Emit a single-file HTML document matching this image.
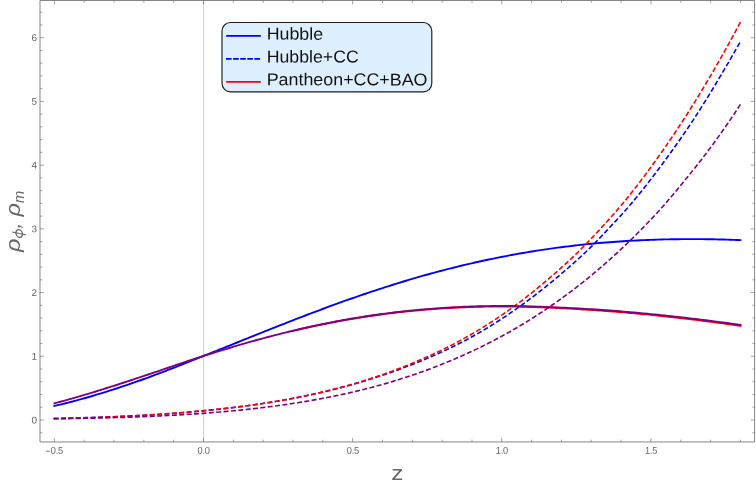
<!DOCTYPE html>
<html><head><meta charset="utf-8"><title>plot</title>
<style>html,body{margin:0;padding:0;background:#fff}body{width:756px;height:486px;overflow:hidden}</style></head>
<body>
<svg width="756" height="486" viewBox="0 0 756 486" style="display:block;will-change:transform">
<rect width="756" height="486" fill="#fff"/>
<line x1="203.5" y1="0.5" x2="203.5" y2="441.95" stroke="#cfcfcf" stroke-width="1"/>
<path d="M54.35,405.94 L57.80,405.14 L61.25,404.31 L64.69,403.47 L68.14,402.60 L71.59,401.71 L75.04,400.81 L78.48,399.88 L81.93,398.93 L85.38,397.97 L88.83,396.98 L92.27,395.98 L95.72,394.96 L99.17,393.92 L102.62,392.87 L106.07,391.79 L109.51,390.71 L112.96,389.60 L116.41,388.48 L119.86,387.34 L123.30,386.19 L126.75,385.03 L130.20,383.85 L133.65,382.66 L137.09,381.46 L140.54,380.24 L143.99,379.01 L147.44,377.77 L150.89,376.51 L154.33,375.23 L157.78,373.93 L161.23,372.62 L164.68,371.30 L168.12,369.97 L171.57,368.62 L175.02,367.27 L178.47,365.91 L181.91,364.55 L185.36,363.18 L188.81,361.80 L192.26,360.43 L195.71,359.05 L199.15,357.68 L202.60,356.31 L206.05,354.94 L209.50,353.57 L212.94,352.19 L216.39,350.81 L219.84,349.43 L223.29,348.05 L226.73,346.66 L230.18,345.28 L233.63,343.89 L237.08,342.50 L240.53,341.12 L243.97,339.73 L247.42,338.34 L250.87,336.96 L254.32,335.58 L257.76,334.20 L261.21,332.82 L264.66,331.44 L268.11,330.07 L271.55,328.70 L275.00,327.33 L278.45,325.97 L281.90,324.61 L285.35,323.26 L288.79,321.91 L292.24,320.56 L295.69,319.22 L299.14,317.89 L302.58,316.56 L306.03,315.24 L309.48,313.93 L312.93,312.62 L316.37,311.32 L319.82,310.03 L323.27,308.75 L326.72,307.47 L330.17,306.20 L333.61,304.94 L337.06,303.69 L340.51,302.44 L343.96,301.21 L347.40,299.98 L350.85,298.77 L354.30,297.56 L357.75,296.37 L361.19,295.18 L364.64,294.00 L368.09,292.84 L371.54,291.68 L374.99,290.54 L378.43,289.40 L381.88,288.28 L385.33,287.17 L388.78,286.07 L392.22,284.98 L395.67,283.90 L399.12,282.84 L402.57,281.78 L406.01,280.74 L409.46,279.71 L412.91,278.69 L416.36,277.69 L419.80,276.69 L423.25,275.71 L426.70,274.74 L430.15,273.79 L433.60,272.84 L437.04,271.91 L440.49,271.00 L443.94,270.09 L447.39,269.20 L450.83,268.32 L454.28,267.46 L457.73,266.60 L461.18,265.76 L464.62,264.94 L468.07,264.12 L471.52,263.33 L474.97,262.54 L478.42,261.77 L481.86,261.01 L485.31,260.26 L488.76,259.53 L492.21,258.81 L495.65,258.10 L499.10,257.41 L502.55,256.73 L506.00,256.06 L509.44,255.41 L512.89,254.77 L516.34,254.15 L519.79,253.53 L523.24,252.94 L526.68,252.35 L530.13,251.78 L533.58,251.22 L537.03,250.67 L540.47,250.14 L543.92,249.62 L547.37,249.11 L550.82,248.62 L554.26,248.14 L557.71,247.67 L561.16,247.22 L564.61,246.78 L568.06,246.35 L571.50,245.94 L574.95,245.53 L578.40,245.14 L581.85,244.76 L585.29,244.40 L588.74,244.05 L592.19,243.71 L595.64,243.38 L599.08,243.07 L602.53,242.76 L605.98,242.47 L609.43,242.20 L612.88,241.93 L616.32,241.68 L619.77,241.44 L623.22,241.21 L626.67,241.00 L630.11,240.80 L633.56,240.61 L637.01,240.43 L640.46,240.26 L643.90,240.11 L647.35,239.97 L650.80,239.83 L654.25,239.71 L657.70,239.61 L661.14,239.51 L664.59,239.42 L668.04,239.34 L671.49,239.28 L674.93,239.22 L678.38,239.18 L681.83,239.15 L685.28,239.12 L688.72,239.11 L692.17,239.11 L695.62,239.11 L699.07,239.13 L702.52,239.15 L705.96,239.19 L709.41,239.24 L712.86,239.29 L716.31,239.36 L719.75,239.44 L723.20,239.52 L726.65,239.62 L730.10,239.72 L733.54,239.84 L736.99,239.96 L740.44,240.09" fill="none" stroke="#0000ff" stroke-width="1.9" stroke-linecap="square" stroke-linejoin="round"/>
<path d="M54.35,418.37 L57.80,418.30 L61.25,418.23 L64.69,418.16 L68.14,418.08 L71.59,418.00 L75.04,417.92 L78.48,417.83 L81.93,417.74 L85.38,417.64 L88.83,417.54 L92.27,417.44 L95.72,417.33 L99.17,417.21 L102.62,417.09 L106.07,416.97 L109.51,416.84 L112.96,416.71 L116.41,416.57 L119.86,416.42 L123.30,416.27 L126.75,416.12 L130.20,415.96 L133.65,415.79 L137.09,415.62 L140.54,415.44 L143.99,415.25 L147.44,415.06 L150.89,414.86 L154.33,414.66 L157.78,414.45 L161.23,414.23 L164.68,414.00 L168.12,413.76 L171.57,413.52 L175.02,413.27 L178.47,413.01 L181.91,412.74 L185.36,412.46 L188.81,412.17 L192.26,411.88 L195.71,411.57 L199.15,411.25 L202.60,410.92 L206.05,410.59 L209.50,410.24 L212.94,409.89 L216.39,409.52 L219.84,409.14 L223.29,408.76 L226.73,408.36 L230.18,407.95 L233.63,407.53 L237.08,407.10 L240.53,406.65 L243.97,406.20 L247.42,405.73 L250.87,405.25 L254.32,404.76 L257.76,404.26 L261.21,403.74 L264.66,403.21 L268.11,402.66 L271.55,402.10 L275.00,401.53 L278.45,400.95 L281.90,400.34 L285.35,399.73 L288.79,399.10 L292.24,398.45 L295.69,397.79 L299.14,397.11 L302.58,396.41 L306.03,395.70 L309.48,394.98 L312.93,394.24 L316.37,393.48 L319.82,392.70 L323.27,391.91 L326.72,391.10 L330.17,390.27 L333.61,389.42 L337.06,388.56 L340.51,387.68 L343.96,386.77 L347.40,385.85 L350.85,384.91 L354.30,383.95 L357.75,382.96 L361.19,381.96 L364.64,380.93 L368.09,379.88 L371.54,378.81 L374.99,377.72 L378.43,376.61 L381.88,375.47 L385.33,374.31 L388.78,373.12 L392.22,371.91 L395.67,370.68 L399.12,369.42 L402.57,368.13 L406.01,366.83 L409.46,365.51 L412.91,364.17 L416.36,362.81 L419.80,361.42 L423.25,360.01 L426.70,358.58 L430.15,357.12 L433.60,355.63 L437.04,354.11 L440.49,352.57 L443.94,350.99 L447.39,349.38 L450.83,347.73 L454.28,346.05 L457.73,344.33 L461.18,342.58 L464.62,340.78 L468.07,338.95 L471.52,337.07 L474.97,335.15 L478.42,333.18 L481.86,331.17 L485.31,329.12 L488.76,327.04 L492.21,324.91 L495.65,322.74 L499.10,320.54 L502.55,318.30 L506.00,316.01 L509.44,313.69 L512.89,311.32 L516.34,308.92 L519.79,306.48 L523.24,303.99 L526.68,301.46 L530.13,298.89 L533.58,296.28 L537.03,293.63 L540.47,290.94 L543.92,288.20 L547.37,285.42 L550.82,282.60 L554.26,279.74 L557.71,276.84 L561.16,273.92 L564.61,270.98 L568.06,268.01 L571.50,265.00 L574.95,261.95 L578.40,258.84 L581.85,255.68 L585.29,252.46 L588.74,249.16 L592.19,245.79 L595.64,242.32 L599.08,238.75 L602.53,235.11 L605.98,231.42 L609.43,227.72 L612.88,224.04 L616.32,220.37 L619.77,216.68 L623.22,212.90 L626.67,208.99 L630.11,204.98 L633.56,200.89 L637.01,196.73 L640.46,192.49 L643.90,188.18 L647.35,183.80 L650.80,179.36 L654.25,174.85 L657.70,170.28 L661.14,165.66 L664.59,160.98 L668.04,156.25 L671.49,151.47 L674.93,146.65 L678.38,141.77 L681.83,136.83 L685.28,131.82 L688.72,126.74 L692.17,121.59 L695.62,116.34 L699.07,110.99 L702.52,105.54 L705.96,100.01 L709.41,94.40 L712.86,88.72 L716.31,82.98 L719.75,77.19 L723.20,71.36 L726.65,65.49 L730.10,59.59 L733.54,53.65 L736.99,47.63 L740.44,41.54" fill="none" stroke="#0000ff" stroke-width="1.6" stroke-dasharray="3.4 4.0" stroke-linecap="square" stroke-linejoin="round"/>
<path d="M292.99,330.87 L295.24,330.34 L297.49,329.81 L299.74,329.29 L301.98,328.78 L304.23,328.27 L306.48,327.77 L308.73,327.28 L310.98,326.78 L313.23,326.30 L315.47,325.82 L317.72,325.35 L319.97,324.88 L322.22,324.42 L324.47,323.96 L326.72,323.51 L328.97,323.07 L331.21,322.63 L333.46,322.20 L335.71,321.77 L337.96,321.35 L340.21,320.94 L342.46,320.53 L344.71,320.13 L346.95,319.73 L349.20,319.34 L351.45,318.96 L353.70,318.58 L355.95,318.21 L358.20,317.84 L360.44,317.49 L362.69,317.13 L364.94,316.78 L367.19,316.44 L369.44,316.11 L371.69,315.78 L373.94,315.45 L376.18,315.14 L378.43,314.82 L380.68,314.52 L382.93,314.22 L385.18,313.93 L387.43,313.64 L389.68,313.36 L391.92,313.08 L394.17,312.81 L396.42,312.55 L398.67,312.29 L400.92,312.04 L403.17,311.79 L405.41,311.55 L407.66,311.31 L409.91,311.09 L412.16,310.86 L414.41,310.64 L416.66,310.43 L418.91,310.23 L421.15,310.03 L423.40,309.83 L425.65,309.64 L427.90,309.46 L430.15,309.28 L432.40,309.11 L434.65,308.94 L436.89,308.78 L439.14,308.63 L441.39,308.48 L443.64,308.34 L445.89,308.20 L448.14,308.06 L450.38,307.94 L452.63,307.81 L454.88,307.70 L457.13,307.58 L459.38,307.48 L461.63,307.38 L463.88,307.28 L466.12,307.19 L468.37,307.11 L470.62,307.03 L472.87,306.95 L475.12,306.88 L477.37,306.82 L479.61,306.76 L481.86,306.70 L484.11,306.65 L486.36,306.61 L488.61,306.58 L490.86,306.55 L493.11,306.53 L495.35,306.51 L497.60,306.50 L499.85,306.50 L502.10,306.50 L504.35,306.51 L506.60,306.52 L508.85,306.54 L511.09,306.56 L513.34,306.59 L515.59,306.62 L517.84,306.66 L520.09,306.71 L522.34,306.76 L524.58,306.81 L526.83,306.87 L529.08,306.93 L531.33,306.99 L533.58,307.06 L535.83,307.14 L538.08,307.22 L540.32,307.30 L542.57,307.38 L544.82,307.47 L547.07,307.56 L549.32,307.66 L551.57,307.76 L553.82,307.86 L556.06,307.97 L558.31,308.08 L560.56,308.19 L562.81,308.30 L565.06,308.42 L567.31,308.53 L569.55,308.65 L571.80,308.78 L574.05,308.90 L576.30,309.03 L578.55,309.16 L580.80,309.29 L583.05,309.43 L585.29,309.57 L587.54,309.71 L589.79,309.86 L592.04,310.00 L594.29,310.15 L596.54,310.31 L598.78,310.47 L601.03,310.62 L603.28,310.79 L605.53,310.95 L607.78,311.12 L610.03,311.29 L612.28,311.47 L614.52,311.64 L616.77,311.82 L619.02,312.01 L621.27,312.19 L623.52,312.38 L625.77,312.57 L628.02,312.76 L630.26,312.96 L632.51,313.16 L634.76,313.36 L637.01,313.57 L639.26,313.77 L641.51,313.98 L643.75,314.20 L646.00,314.41 L648.25,314.63 L650.50,314.85 L652.75,315.08 L655.00,315.31 L657.25,315.53 L659.49,315.77 L661.74,316.00 L663.99,316.24 L666.24,316.48 L668.49,316.72 L670.74,316.97 L672.99,317.22 L675.23,317.47 L677.48,317.72 L679.73,317.98 L681.98,318.24 L684.23,318.50 L686.48,318.77 L688.72,319.03 L690.97,319.30 L693.22,319.58 L695.47,319.85 L697.72,320.13 L699.97,320.41 L702.22,320.70 L704.46,320.99 L706.71,321.28 L708.96,321.57 L711.21,321.86 L713.46,322.16 L715.71,322.46 L717.96,322.76 L720.20,323.07 L722.45,323.37 L724.70,323.68 L726.95,323.99 L729.20,324.30 L731.45,324.62 L733.69,324.93 L735.94,325.25 L738.19,325.57 L740.44,325.89" fill="none" stroke="#ff0000" stroke-width="1.9" stroke-linecap="square" stroke-linejoin="round"/>
<path d="M54.35,418.77 L57.80,418.68 L61.25,418.60 L64.69,418.51 L68.14,418.42 L71.59,418.32 L75.04,418.22 L78.48,418.12 L81.93,418.01 L85.38,417.90 L88.83,417.78 L92.27,417.66 L95.72,417.54 L99.17,417.41 L102.62,417.27 L106.07,417.14 L109.51,416.99 L112.96,416.84 L116.41,416.69 L119.86,416.53 L123.30,416.37 L126.75,416.20 L130.20,416.02 L133.65,415.84 L137.09,415.65 L140.54,415.45 L143.99,415.25 L147.44,415.05 L150.89,414.83 L154.33,414.61 L157.78,414.38 L161.23,414.15 L164.68,413.91 L168.12,413.66 L171.57,413.40 L175.02,413.13 L178.47,412.86 L181.91,412.58 L185.36,412.29 L188.81,412.00 L192.26,411.69 L195.71,411.38 L199.15,411.06 L202.60,410.73 L206.05,410.40 L209.50,410.05 L212.94,409.70 L216.39,409.34 L219.84,408.98 L223.29,408.60 L226.73,408.22 L230.18,407.82 L233.63,407.42 L237.08,407.00 L240.53,406.58 L243.97,406.14 L247.42,405.69 L250.87,405.23 L254.32,404.75 L257.76,404.27 L261.21,403.77 L264.66,403.25 L268.11,402.72 L271.55,402.17 L275.00,401.61 L278.45,401.04 L281.90,400.44 L285.35,399.83 L288.79,399.20 L292.24,398.56 L295.69,397.89 L299.14,397.21 L302.58,396.51 L306.03,395.78 L309.48,395.05 L312.93,394.29 L316.37,393.51 L319.82,392.72 L323.27,391.91 L326.72,391.07 L330.17,390.22 L333.61,389.35 L337.06,388.45 L340.51,387.54 L343.96,386.61 L347.40,385.65 L350.85,384.67 L354.30,383.67 L357.75,382.65 L361.19,381.61 L364.64,380.54 L368.09,379.45 L371.54,378.33 L374.99,377.20 L378.43,376.03 L381.88,374.85 L385.33,373.63 L388.78,372.40 L392.22,371.13 L395.67,369.84 L399.12,368.53 L402.57,367.19 L406.01,365.82 L409.46,364.43 L412.91,363.01 L416.36,361.57 L419.80,360.10 L423.25,358.61 L426.70,357.08 L430.15,355.53 L433.60,353.94 L437.04,352.32 L440.49,350.67 L443.94,348.99 L447.39,347.28 L450.83,345.53 L454.28,343.74 L457.73,341.92 L461.18,340.06 L464.62,338.16 L468.07,336.22 L471.52,334.24 L474.97,332.22 L478.42,330.16 L481.86,328.06 L485.31,325.91 L488.76,323.73 L492.21,321.49 L495.65,319.22 L499.10,316.90 L502.55,314.54 L506.00,312.14 L509.44,309.69 L512.89,307.20 L516.34,304.67 L519.79,302.09 L523.24,299.47 L526.68,296.81 L530.13,294.10 L533.58,291.36 L537.03,288.56 L540.47,285.73 L543.92,282.85 L547.37,279.93 L550.82,276.97 L554.26,273.98 L557.71,270.95 L561.16,267.88 L564.61,264.76 L568.06,261.59 L571.50,258.36 L574.95,255.07 L578.40,251.72 L581.85,248.29 L585.29,244.80 L588.74,241.25 L592.19,237.65 L595.64,233.99 L599.08,230.27 L602.53,226.50 L605.98,222.68 L609.43,218.83 L612.88,214.97 L616.32,211.06 L619.77,207.05 L623.22,202.94 L626.67,198.74 L630.11,194.47 L633.56,190.12 L637.01,185.70 L640.46,181.20 L643.90,176.64 L647.35,172.01 L650.80,167.31 L654.25,162.55 L657.70,157.74 L661.14,152.86 L664.59,147.93 L668.04,142.94 L671.49,137.88 L674.93,132.75 L678.38,127.55 L681.83,122.29 L685.28,116.96 L688.72,111.56 L692.17,106.09 L695.62,100.56 L699.07,94.95 L702.52,89.28 L705.96,83.53 L709.41,77.72 L712.86,71.83 L716.31,65.87 L719.75,59.84 L723.20,53.73 L726.65,47.55 L730.10,41.30 L733.54,34.97 L736.99,28.57 L740.44,22.10" fill="none" stroke="#ff0000" stroke-width="1.6" stroke-dasharray="3.4 4.0" stroke-linecap="square" stroke-linejoin="round"/>
<path d="M54.35,403.31 L57.80,402.41 L61.25,401.50 L64.69,400.57 L68.14,399.62 L71.59,398.65 L75.04,397.67 L78.48,396.68 L81.93,395.67 L85.38,394.65 L88.83,393.62 L92.27,392.57 L95.72,391.51 L99.17,390.45 L102.62,389.37 L106.07,388.28 L109.51,387.19 L112.96,386.09 L116.41,384.98 L119.86,383.86 L123.30,382.74 L126.75,381.61 L130.20,380.48 L133.65,379.34 L137.09,378.20 L140.54,377.06 L143.99,375.92 L147.44,374.77 L150.89,373.61 L154.33,372.45 L157.78,371.28 L161.23,370.11 L164.68,368.93 L168.12,367.76 L171.57,366.58 L175.02,365.41 L178.47,364.24 L181.91,363.07 L185.36,361.91 L188.81,360.76 L192.26,359.62 L195.71,358.49 L199.15,357.37 L202.60,356.26 L206.05,355.17 L209.50,354.08 L212.94,353.00 L216.39,351.93 L219.84,350.87 L223.29,349.81 L226.73,348.76 L230.18,347.73 L233.63,346.70 L237.08,345.68 L240.53,344.67 L243.97,343.68 L247.42,342.69 L250.87,341.71 L254.32,340.74 L257.76,339.79 L261.21,338.85 L264.66,337.91 L268.11,336.99 L271.55,336.09 L275.00,335.19 L278.45,334.31 L281.90,333.44 L285.35,332.58 L288.79,331.73 L292.24,330.90 L295.69,330.08 L299.14,329.27 L302.58,328.48 L306.03,327.70 L309.48,326.93 L312.93,326.18 L316.37,325.44 L319.82,324.72 L323.27,324.00 L326.72,323.31 L330.17,322.62 L333.61,321.95 L337.06,321.30 L340.51,320.66 L343.96,320.03 L347.40,319.41 L350.85,318.81 L354.30,318.23 L357.75,317.66 L361.19,317.10 L364.64,316.56 L368.09,316.03 L371.54,315.51 L374.99,315.01 L378.43,314.53 L381.88,314.05 L385.33,313.60 L388.78,313.15 L392.22,312.72 L395.67,312.30 L399.12,311.90 L402.57,311.51 L406.01,311.14 L409.46,310.78 L412.91,310.43 L416.36,310.09 L419.80,309.77 L423.25,309.46 L426.70,309.17 L430.15,308.89 L433.60,308.62 L437.04,308.37 L440.49,308.13 L443.94,307.90 L447.39,307.68 L450.83,307.48 L454.28,307.29 L457.73,307.11 L461.18,306.95 L464.62,306.79 L468.07,306.65 L471.52,306.53 L474.97,306.41 L478.42,306.31 L481.86,306.21 L485.31,306.14 L488.76,306.08 L492.21,306.03 L495.65,306.00 L499.10,305.98 L502.55,305.97 L506.00,305.98 L509.44,306.01 L512.89,306.04 L516.34,306.09 L519.79,306.14 L523.24,306.21 L526.68,306.29 L530.13,306.38 L533.58,306.48 L537.03,306.59 L540.47,306.71 L543.92,306.83 L547.37,306.97 L550.82,307.11 L554.26,307.26 L557.71,307.42 L561.16,307.58 L564.61,307.75 L568.06,307.93 L571.50,308.11 L574.95,308.29 L578.40,308.48 L581.85,308.68 L585.29,308.89 L588.74,309.10 L592.19,309.32 L595.64,309.55 L599.08,309.78 L602.53,310.02 L605.98,310.27 L609.43,310.52 L612.88,310.78 L616.32,311.05 L619.77,311.32 L623.22,311.60 L626.67,311.89 L630.11,312.19 L633.56,312.49 L637.01,312.79 L640.46,313.11 L643.90,313.42 L647.35,313.75 L650.80,314.08 L654.25,314.42 L657.70,314.77 L661.14,315.12 L664.59,315.48 L668.04,315.84 L671.49,316.21 L674.93,316.59 L678.38,316.98 L681.83,317.37 L685.28,317.76 L688.72,318.16 L692.17,318.57 L695.62,318.99 L699.07,319.41 L702.52,319.84 L705.96,320.28 L709.41,320.72 L712.86,321.17 L716.31,321.62 L719.75,322.08 L723.20,322.54 L726.65,323.01 L730.10,323.48 L733.54,323.96 L736.99,324.44 L740.44,324.92" fill="none" stroke="#800080" stroke-width="1.9" stroke-linecap="square" stroke-linejoin="round"/>
<path d="M54.35,418.78 L57.80,418.74 L61.25,418.70 L64.69,418.65 L68.14,418.60 L71.59,418.55 L75.04,418.49 L78.48,418.44 L81.93,418.38 L85.38,418.31 L88.83,418.25 L92.27,418.18 L95.72,418.10 L99.17,418.02 L102.62,417.94 L106.07,417.86 L109.51,417.77 L112.96,417.67 L116.41,417.57 L119.86,417.47 L123.30,417.37 L126.75,417.25 L130.20,417.14 L133.65,417.02 L137.09,416.89 L140.54,416.76 L143.99,416.62 L147.44,416.48 L150.89,416.33 L154.33,416.18 L157.78,416.02 L161.23,415.86 L164.68,415.69 L168.12,415.51 L171.57,415.33 L175.02,415.14 L178.47,414.94 L181.91,414.73 L185.36,414.52 L188.81,414.31 L192.26,414.08 L195.71,413.85 L199.15,413.61 L202.60,413.36 L206.05,413.10 L209.50,412.84 L212.94,412.57 L216.39,412.29 L219.84,412.00 L223.29,411.70 L226.73,411.40 L230.18,411.08 L233.63,410.76 L237.08,410.42 L240.53,410.08 L243.97,409.72 L247.42,409.36 L250.87,408.99 L254.32,408.60 L257.76,408.20 L261.21,407.80 L264.66,407.38 L268.11,406.95 L271.55,406.50 L275.00,406.05 L278.45,405.58 L281.90,405.10 L285.35,404.61 L288.79,404.10 L292.24,403.58 L295.69,403.04 L299.14,402.49 L302.58,401.93 L306.03,401.36 L309.48,400.77 L312.93,400.16 L316.37,399.54 L319.82,398.91 L323.27,398.26 L326.72,397.60 L330.17,396.92 L333.61,396.23 L337.06,395.52 L340.51,394.79 L343.96,394.05 L347.40,393.28 L350.85,392.50 L354.30,391.71 L357.75,390.89 L361.19,390.05 L364.64,389.20 L368.09,388.32 L371.54,387.43 L374.99,386.51 L378.43,385.58 L381.88,384.62 L385.33,383.64 L388.78,382.64 L392.22,381.61 L395.67,380.56 L399.12,379.49 L402.57,378.40 L406.01,377.28 L409.46,376.15 L412.91,374.98 L416.36,373.80 L419.80,372.59 L423.25,371.36 L426.70,370.11 L430.15,368.83 L433.60,367.52 L437.04,366.20 L440.49,364.84 L443.94,363.46 L447.39,362.06 L450.83,360.63 L454.28,359.17 L457.73,357.68 L461.18,356.17 L464.62,354.63 L468.07,353.06 L471.52,351.47 L474.97,349.85 L478.42,348.19 L481.86,346.51 L485.31,344.80 L488.76,343.06 L492.21,341.29 L495.65,339.49 L499.10,337.65 L502.55,335.78 L506.00,333.88 L509.44,331.95 L512.89,329.98 L516.34,327.98 L519.79,325.94 L523.24,323.87 L526.68,321.77 L530.13,319.63 L533.58,317.45 L537.03,315.24 L540.47,312.99 L543.92,310.71 L547.37,308.39 L550.82,306.03 L554.26,303.64 L557.71,301.20 L561.16,298.73 L564.61,296.22 L568.06,293.67 L571.50,291.08 L574.95,288.46 L578.40,285.79 L581.85,283.08 L585.29,280.33 L588.74,277.53 L592.19,274.69 L595.64,271.81 L599.08,268.89 L602.53,265.92 L605.98,262.91 L609.43,259.86 L612.88,256.76 L616.32,253.61 L619.77,250.42 L623.22,247.18 L626.67,243.90 L630.11,240.57 L633.56,237.19 L637.01,233.77 L640.46,230.30 L643.90,226.78 L647.35,223.21 L650.80,219.59 L654.25,215.91 L657.70,212.18 L661.14,208.39 L664.59,204.49 L668.04,200.50 L671.49,196.43 L674.93,192.30 L678.38,188.13 L681.83,183.94 L685.28,179.73 L688.72,175.52 L692.17,171.26 L695.62,166.95 L699.07,162.58 L702.52,158.15 L705.96,153.66 L709.41,149.10 L712.86,144.46 L716.31,139.73 L719.75,134.91 L723.20,130.01 L726.65,125.04 L730.10,120.01 L733.54,114.88 L736.99,109.66 L740.44,104.35" fill="none" stroke="#800080" stroke-width="1.6" stroke-dasharray="3.4 4.0" stroke-linecap="square" stroke-linejoin="round"/>
<g stroke="#707070" stroke-width="0.85" fill="none" id="frame">
<path d="M40.0,0.5 H754.6 V441.95 H40.0 Z"/>
</g>
<path d="M54.35,441.95 v-4.0 M54.35,0.5 v4.0 M84.18,441.95 v-2.3 M84.18,0.5 v2.3 M114.01,441.95 v-2.3 M114.01,0.5 v2.3 M143.84,441.95 v-2.3 M143.84,0.5 v2.3 M173.67,441.95 v-2.3 M173.67,0.5 v2.3 M203.50,441.95 v-4.0 M203.50,0.5 v4.0 M233.33,441.95 v-2.3 M233.33,0.5 v2.3 M263.16,441.95 v-2.3 M263.16,0.5 v2.3 M292.99,441.95 v-2.3 M292.99,0.5 v2.3 M322.82,441.95 v-2.3 M322.82,0.5 v2.3 M352.65,441.95 v-4.0 M352.65,0.5 v4.0 M382.48,441.95 v-2.3 M382.48,0.5 v2.3 M412.31,441.95 v-2.3 M412.31,0.5 v2.3 M442.14,441.95 v-2.3 M442.14,0.5 v2.3 M471.97,441.95 v-2.3 M471.97,0.5 v2.3 M501.80,441.95 v-4.0 M501.80,0.5 v4.0 M531.63,441.95 v-2.3 M531.63,0.5 v2.3 M561.46,441.95 v-2.3 M561.46,0.5 v2.3 M591.29,441.95 v-2.3 M591.29,0.5 v2.3 M621.12,441.95 v-2.3 M621.12,0.5 v2.3 M650.95,441.95 v-4.0 M650.95,0.5 v4.0 M680.78,441.95 v-2.3 M680.78,0.5 v2.3 M710.61,441.95 v-2.3 M710.61,0.5 v2.3 M740.44,441.95 v-2.3 M740.44,0.5 v2.3 M40.0,432.74 h2.3 M754.6,432.74 h-2.3 M40.0,420.00 h4.0 M754.6,420.00 h-4.0 M40.0,407.26 h2.3 M754.6,407.26 h-2.3 M40.0,394.51 h2.3 M754.6,394.51 h-2.3 M40.0,381.77 h2.3 M754.6,381.77 h-2.3 M40.0,369.02 h2.3 M754.6,369.02 h-2.3 M40.0,356.28 h4.0 M754.6,356.28 h-4.0 M40.0,343.54 h2.3 M754.6,343.54 h-2.3 M40.0,330.79 h2.3 M754.6,330.79 h-2.3 M40.0,318.05 h2.3 M754.6,318.05 h-2.3 M40.0,305.30 h2.3 M754.6,305.30 h-2.3 M40.0,292.56 h4.0 M754.6,292.56 h-4.0 M40.0,279.82 h2.3 M754.6,279.82 h-2.3 M40.0,267.07 h2.3 M754.6,267.07 h-2.3 M40.0,254.33 h2.3 M754.6,254.33 h-2.3 M40.0,241.58 h2.3 M754.6,241.58 h-2.3 M40.0,228.84 h4.0 M754.6,228.84 h-4.0 M40.0,216.10 h2.3 M754.6,216.10 h-2.3 M40.0,203.35 h2.3 M754.6,203.35 h-2.3 M40.0,190.61 h2.3 M754.6,190.61 h-2.3 M40.0,177.86 h2.3 M754.6,177.86 h-2.3 M40.0,165.12 h4.0 M754.6,165.12 h-4.0 M40.0,152.38 h2.3 M754.6,152.38 h-2.3 M40.0,139.63 h2.3 M754.6,139.63 h-2.3 M40.0,126.89 h2.3 M754.6,126.89 h-2.3 M40.0,114.14 h2.3 M754.6,114.14 h-2.3 M40.0,101.40 h4.0 M754.6,101.40 h-4.0 M40.0,88.66 h2.3 M754.6,88.66 h-2.3 M40.0,75.91 h2.3 M754.6,75.91 h-2.3 M40.0,63.17 h2.3 M754.6,63.17 h-2.3 M40.0,50.42 h2.3 M754.6,50.42 h-2.3 M40.0,37.68 h4.0 M754.6,37.68 h-4.0 M40.0,24.94 h2.3 M754.6,24.94 h-2.3 M40.0,12.19 h2.3 M754.6,12.19 h-2.3" stroke="#666" stroke-width="0.6" fill="none"/>
<g font-family="Liberation Sans, sans-serif" font-size="9.8" fill="#666" letter-spacing="-0.2">
<text transform="translate(56.85,453.75) rotate(0.03) scale(0.94,1)" text-anchor="middle">0.5</text>
<text transform="translate(203.60,453.75) rotate(0.03) scale(0.94,1)" text-anchor="middle">0.0</text>
<text transform="translate(352.75,453.75) rotate(0.03) scale(0.94,1)" text-anchor="middle">0.5</text>
<text transform="translate(501.90,453.75) rotate(0.03) scale(0.94,1)" text-anchor="middle">1.0</text>
<text transform="translate(651.05,453.75) rotate(0.03) scale(0.94,1)" text-anchor="middle">1.5</text>
<rect x="46.0" y="450.75" width="3.9" height="0.8" fill="#666"/>
<text transform="translate(36.9,423.40) rotate(0.03) scale(1.02,1)" text-anchor="end">0</text>
<text transform="translate(36.9,359.68) rotate(0.03) scale(1.02,1)" text-anchor="end">1</text>
<text transform="translate(36.9,295.96) rotate(0.03) scale(1.02,1)" text-anchor="end">2</text>
<text transform="translate(36.9,232.24) rotate(0.03) scale(1.02,1)" text-anchor="end">3</text>
<text transform="translate(36.9,168.52) rotate(0.03) scale(1.02,1)" text-anchor="end">4</text>
<text transform="translate(36.9,104.80) rotate(0.03) scale(1.02,1)" text-anchor="end">5</text>
<text transform="translate(36.9,41.08) rotate(0.03) scale(1.02,1)" text-anchor="end">6</text>
</g>
<text transform="translate(397.2,480) scale(1.15,1)" font-family="Liberation Sans, sans-serif" font-size="21" fill="#666" text-anchor="middle">z</text>
<g transform="translate(19.9,252) rotate(-90)" font-family="Liberation Sans, sans-serif" font-style="italic" fill="#666"><text transform="translate(-0.05,0) scale(1.13,1)" font-size="21">ρ</text><g transform="translate(18.5,-0.7)" fill="none" stroke="#666" stroke-width="1.25"><ellipse cx="0" cy="0" rx="3.8" ry="3.3" transform="skewX(-12)"/><path d="M1.5,-7 L-1.5,7"/></g><text x="23.6" y="0" font-size="21">,</text><text transform="translate(35.5,0) scale(1.13,1)" font-size="21">ρ</text><text x="48.9" y="4" font-size="14.7">m</text></g>
<rect x="222" y="22.5" width="209.8" height="69.3" rx="8.5" ry="8.5" fill="#def0ff" stroke="#1c1c1c" stroke-width="1.15"/>
<line x1="226.2" y1="35.9" x2="260.8" y2="35.9" stroke="#0000ff" stroke-width="1.8"/>
<text transform="translate(266.7,39.6) rotate(0.06)" font-family="Liberation Sans, sans-serif" font-size="17.2" fill="#111" textLength="56.4" lengthAdjust="spacingAndGlyphs">Hubble</text>
<line x1="226.0" y1="58.9" x2="260.3" y2="58.9" stroke="#0000ff" stroke-width="1.8" stroke-dasharray="5.6 1.5"/>
<text transform="translate(266.7,62.45) rotate(0.06)" font-family="Liberation Sans, sans-serif" font-size="17.2" fill="#111" textLength="92.0" lengthAdjust="spacingAndGlyphs">Hubble+CC</text>
<line x1="226.2" y1="81.8" x2="260.8" y2="81.8" stroke="#ff0000" stroke-width="1.8"/>
<text transform="translate(266.7,85.25) rotate(0.06)" font-family="Liberation Sans, sans-serif" font-size="17.2" fill="#111" textLength="160.8" lengthAdjust="spacingAndGlyphs">Pantheon+CC+BAO</text>
</svg>
</body></html>
